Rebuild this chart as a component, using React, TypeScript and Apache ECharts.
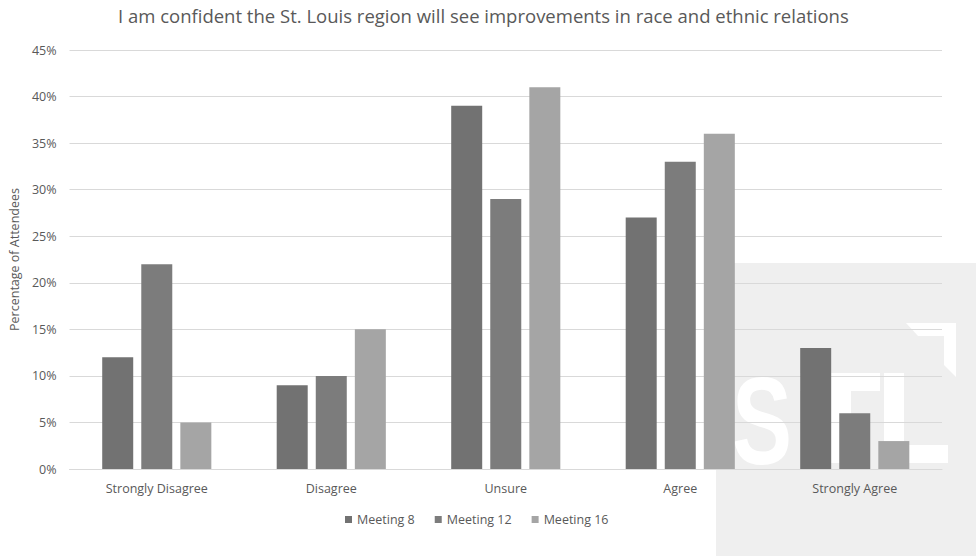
import React, { useEffect, useRef } from "react";
import * as echarts from "echarts";

const categories = ["Strongly Disagree", "Disagree", "Unsure", "Agree", "Strongly Agree"];
const seriesNames = ["Meeting 8", "Meeting 12", "Meeting 16"];
const meeting8 = [12, 9, 39, 27, 13];
const meeting12 = [22, 10, 29, 33, 6];
const meeting16 = [5, 15, 41, 36, 3];
const colors = ["#727272", "#7c7c7c", "#a5a5a5"];
const titleText = "I am confident the St. Louis region will see improvements in race and ethnic relations";
const yAxisName = "Percentage of Attendees";

export default function App() {
  const ref = useRef<HTMLDivElement>(null);
  useEffect(() => {
    if (!ref.current) return;
    const chart = echarts.init(ref.current, null, { renderer: "svg" });
    const font = "'Open Sans', sans-serif";
    const data = [meeting8, meeting12, meeting16];
    chart.setOption({
      animation: false,
      backgroundColor: "#ffffff",
      textStyle: { fontFamily: font },
      title: {
        text: titleText,
        left: 113,
        top: 1,
        textStyle: { fontFamily: font, fontSize: 18.5, fontWeight: "normal", color: "#595959" },
      },
      graphic: [
        {
          type: "group",
          z: -10,
          silent: true,
          children: [
            { type: "rect", shape: { x: 716, y: 263, width: 260, height: 293 }, style: { fill: "#efefef" } },
            {
              type: "text",
              x: 732,
              y: 358,
              scaleX: 0.72,
              style: { text: "S", fontSize: 125, fontWeight: "bold", fontFamily: "'Liberation Sans', sans-serif", fill: "#ffffff" },
            },
            { type: "rect", shape: { x: 800, y: 373, width: 80, height: 18 }, style: { fill: "#ffffff" } },
            { type: "rect", shape: { x: 829, y: 373, width: 22, height: 90 }, style: { fill: "#ffffff" } },
            { type: "rect", shape: { x: 884, y: 373, width: 20, height: 90 }, style: { fill: "#ffffff" } },
            { type: "rect", shape: { x: 884, y: 445, width: 64, height: 18 }, style: { fill: "#ffffff" } },
            {
              type: "polygon",
              shape: { points: [[906, 323], [956, 323], [956, 377], [944, 365], [944, 336], [918, 336]] },
              style: { fill: "#ffffff" },
            },
          ],
        },
      ],
      legend: {
        bottom: 25,
        left: 340,
        itemWidth: 7,
        itemHeight: 7,
        itemGap: 20,
        icon: "rect",
        textStyle: { fontFamily: font, fontSize: 12.5, color: "#595959" },
        data: seriesNames,
      },
      grid: { left: 68, right: 34, top: 50, bottom: 87, containLabel: false },
      xAxis: {
        type: "category",
        data: categories,
        axisLine: { lineStyle: { color: "#d9d9d9", width: 1 } },
        axisTick: { show: false },
        axisLabel: { fontFamily: font, fontSize: 12.5, color: "#595959", margin: 13 },
      },
      yAxis: {
        type: "value",
        min: 0,
        max: 45,
        interval: 5,
        name: yAxisName,
        nameLocation: "middle",
        nameGap: 46,
        nameTextStyle: { fontFamily: font, fontSize: 12.5, color: "#595959" },
        axisLine: { show: false },
        axisTick: { show: false },
        axisLabel: { formatter: "{value}%", fontFamily: font, fontSize: 12.5, color: "#595959", margin: 13 },
        splitLine: { lineStyle: { color: "#d9d9d9", width: 1 } },
      },
      series: seriesNames.map((name, i) => ({
        name,
        type: "bar",
        data: data[i],
        barWidth: 31,
        barGap: "26%",
        itemStyle: { color: colors[i] },
      })),
    });
    return () => chart.dispose();
  }, []);
  return <div ref={ref} style={{ width: 976, height: 556, position: "absolute", left: 0, top: 0 }} />;
}
